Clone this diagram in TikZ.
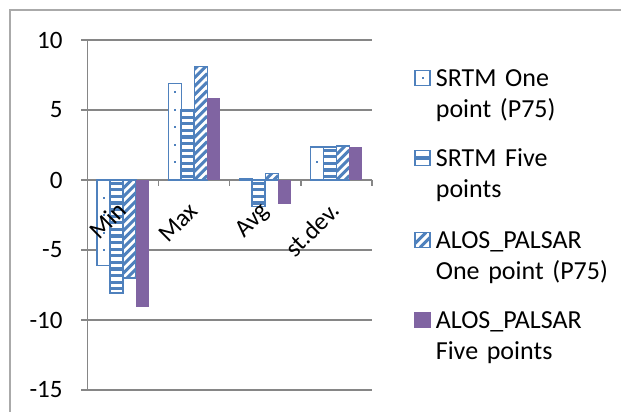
\documentclass[tikz,border=0pt]{standalone}
\usepackage{fontspec}
\setmainfont{Carlito}
\usetikzlibrary{positioning, calc}

\definecolor{barblue}{RGB}{79,129,189}
\definecolor{barpurple}{RGB}{128,100,162}
\definecolor{gridgray}{RGB}{134,134,134}
\definecolor{framegray}{RGB}{170,170,170}

\tikzset{
  gridline/.style={gridgray, line width=1.3pt},
  barline/.style={barblue, line width=1.3pt},
  ylabel/.style={anchor=east, inner sep=0pt, font=\fontsize{25}{30}\selectfont},
  catlabel/.style={rotate=45, anchor=east, inner sep=0pt, text height=17pt, text depth=5pt,
    font=\fontsize{25}{30}\selectfont},
  legbox/.style={draw=barblue, line width=1.3pt, fill=white, minimum size=15pt, inner sep=0pt},
  legtext/.style={anchor=base west, inner sep=0pt, text width=180pt, align=left,
    font=\fontsize{26}{31}\selectfont}
}

% zero line at y=232, 14pt per unit, bars 13pt wide
\newcommand{\dotbar}[2]{%
  \fill[white] (#1,232) rectangle ({#1+13},{232+14*(#2)});
  \begin{scope}
    \clip (#1,232) rectangle ({#1+13},{232+14*(#2)});
    \foreach \k in {-7,...,-1,1,2,...,7}
      \fill[barblue] ({#1+5.5},{232+17.6*\k-1}) rectangle ++(2,2);
  \end{scope}
  \draw[barline] (#1,232) rectangle ({#1+13},{232+14*(#2)});
}
\newcommand{\stripebar}[2]{%
  \fill[white] (#1,232) rectangle ({#1+13},{232+14*(#2)});
  \begin{scope}
    \clip (#1,232) rectangle ({#1+13},{232+14*(#2)});
    \foreach \k in {-20,...,18}
      \fill[barblue] (#1,{232+6.6*\k+1.7}) rectangle ({#1+13},{232+6.6*\k+4.9});
  \end{scope}
  \draw[barline, line width=1.8pt] (#1,232) rectangle ({#1+13},{232+14*(#2)});
}
\newcommand{\diagbar}[2]{%
  \fill[white] (#1,232) rectangle ({#1+13},{232+14*(#2)});
  \begin{scope}
    \clip (#1,232) rectangle ({#1+13},{232+14*(#2)});
    \foreach \k in {-20,...,16}
      \draw[barblue, line width=3pt] (#1,{232+8.5*\k}) -- ++(13,13);
  \end{scope}
  \draw[barline] (#1,232) rectangle ({#1+13},{232+14*(#2)});
}
\newcommand{\solidbar}[2]{%
  \fill[barpurple] (#1,232) rectangle ({#1+13},{232+14*(#2)});
}

\begin{document}
\begin{tikzpicture}[x=1pt, y=1pt]
  \useasboundingbox (0,0) rectangle (621,412);

  % chart frame (cut at right and bottom)
  \draw[framegray, line width=1.2pt] (10,0) -- (10,402) -- (621,402);

  % grid and value axis
  \foreach \v/\lab in {10/10, 5/5, 0/0, -5/-5, -10/-10, -15/-15} {
    \draw[gridline] (81,{232+14*\v}) -- (372,{232+14*\v});
    \node[ylabel] (ylab\lab) at (62.7,{232+14*\v}) {\lab};
  }
  \draw[gridline] (87.5,22) -- (87.5,372);
  \foreach \k in {1,...,4}
    \draw[gridline] ({87.5+71.125*\k},232) -- ({87.5+71.125*\k},226);

  % bars
  \foreach \a/\b/\c/\d [count=\i from 0] in
    {-6.1/-8.05/-7.0/-9.1, 6.9/5.0/8.1/5.85, 0.1/-1.9/0.45/-1.7, 2.35/2.35/2.42/2.38} {
    \pgfmathsetmacro{\xl}{97.06+71.125*\i}
    \dotbar{\xl}{\a}
    \stripebar{\xl+13}{\b}
    \diagbar{\xl+26}{\c}
    \solidbar{\xl+39}{\d}
  }

  % category labels
  \node[catlabel] (cmin) at (124,204) {Min};
  \node[catlabel] (cmax) at (195,204) {Max};
  \node[catlabel] (cavg) at (266,204) {Avg};
  \node[catlabel] (cstd) at (337,204) {st.dev.};

  % legend
  \node[legbox, path picture={
      \fill[barblue] ([shift={(-1pt,-1pt)}]path picture bounding box.center) rectangle ++(2pt,2pt);}]
    (m1) at (422.5,334) {};
  \node[legbox, path picture={
      \fill[barblue] ([yshift=-1.6pt]path picture bounding box.west)
        rectangle ([yshift=1.6pt]path picture bounding box.east);}]
    (m2) at (422.5,254) {};
  \node[legbox, path picture={
      \draw[barblue, line width=3pt] ([xshift=-4pt]path picture bounding box.south west)
        -- ([xshift=-4pt]path picture bounding box.north east);
      \draw[barblue, line width=3pt] ([xshift=5pt]path picture bounding box.south west)
        -- ([xshift=5pt]path picture bounding box.north east);}]
    (m3) at (422.5,172) {};
  \node[legbox, draw=barpurple, fill=barpurple] (m4) at (422.5,92) {};

  \node[legtext] (t1) at ($(m1.east)+(5,-8.4)$) {SRTM One\\point (P75)};
  \node[legtext] (t2) at ($(m2.east)+(5,-8.4)$) {SRTM Five\\points};
  \node[legtext] (t3) at ($(m3.east)+(5,-8.4)$) {ALOS\_PALSAR\\One point (P75)};
  \node[legtext] (t4) at ($(m4.east)+(5,-8.4)$) {ALOS\_PALSAR\\Five points};
\end{tikzpicture}
\end{document}
